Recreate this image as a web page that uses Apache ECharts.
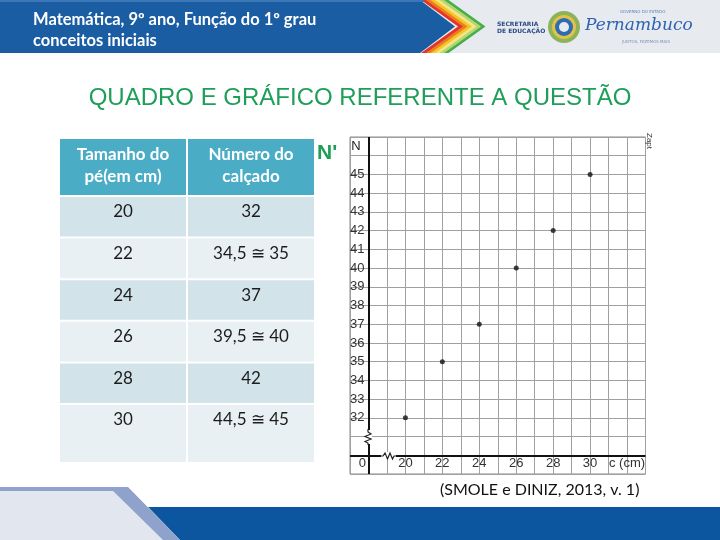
<!DOCTYPE html>
<html><head><meta charset="utf-8">
<script src="https://cdn.jsdelivr.net/npm/echarts@6/dist/echarts.min.js"></script>
<style>html,body{margin:0;padding:0;background:#fff}#c{width:720px;height:540px}</style>
</head><body><div id="c"></div>
<script>
// ---- data ----
const footSizes = [20, 22, 24, 26, 28, 30];
const shoeLabels = ['32', '34,5 ≅ 35', '37', '39,5 ≅ 40', '42', '44,5 ≅ 45'];
const shoeNumbers = [32, 35, 37, 40, 42, 45];
const tableHeaders = ['Tamanho do\npé(em cm)', 'Número do\ncalçado'];
const xTickLabels = [20, 22, 24, 26, 28, 30];
const yTickLabels = [32, 33, 34, 35, 36, 37, 38, 39, 40, 41, 42, 43, 44, 45];
const headerLine1 = 'Matemática, 9º ano, Função do 1º grau';
const headerLine2 = 'conceitos iniciais';
const titleText = 'QUADRO E GRÁFICO REFERENTE A QUESTÃO';
const citation = '(SMOLE e DINIZ, 2013, v. 1)';

const chart = echarts.init(document.getElementById('c'), null, {renderer: 'canvas'});
const g = [];

// header band
g.push({type: 'rect', shape: {x: 0, y: 0, width: 720, height: 53}, style: {fill: '#E7EAEF'}, z: 0});
const chevColors = ['#E3342A', '#EE7D1E', '#F6C51E', '#F3E58A', '#B5D66E', '#47AE4A'];
for (let i = chevColors.length - 1; i >= 0; i--) {
  const d = 3 + i * 4.5;
  g.push({type: 'polygon', shape: {points: [[418 + d, 0], [455 + d, 26.5], [418 + d, 53], [418 + d + 5, 53], [455 + d + 5, 26.5], [418 + d + 5, 0]]}, style: {fill: chevColors[i]}, z: 1});
}
g.push({type: 'polygon', shape: {points: [[0, 0], [420, 0], [455, 26.5], [420, 53], [0, 53]]}, style: {fill: '#1A5DA2'}, z: 2});
g.push({type: 'rect', shape: {x: 0, y: 0, width: 424, height: 2}, style: {fill: '#3C78B8'}, z: 3});
g.push({type: 'text', left: 33, top: 11, style: {text: headerLine1, fill: '#fff', font: 'bold 16.5px Lato'}, z: 4});
g.push({type: 'text', left: 33, top: 32, style: {text: headerLine2, fill: '#fff', font: 'bold 16.5px Lato'}, z: 4});
// logo approximations
g.push({type: 'text', left: 497, top: 21, style: {text: 'SECRETARIA\nDE EDUCAÇÃO', fill: '#2B4C86', font: 'bold 6px "DejaVu Sans"', lineHeight: 7}, z: 4});
g.push({type: 'circle', shape: {cx: 564, cy: 27, r: 16}, style: {fill: '#8DB35A'}, z: 4});
g.push({type: 'circle', shape: {cx: 564, cy: 27, r: 12}, style: {fill: '#E2C24A'}, z: 4});
g.push({type: 'circle', shape: {cx: 564, cy: 27, r: 9}, style: {fill: '#2D6CB3'}, z: 4});
g.push({type: 'circle', shape: {cx: 564, cy: 27, r: 5}, style: {fill: '#E7EAEF'}, z: 4});
g.push({type: 'text', left: 620, top: 10, style: {text: 'GOVERNO DO ESTADO', fill: '#5A7FB5', font: '4px "DejaVu Sans"'}, z: 4});
g.push({type: 'text', left: 585, top: 17, style: {text: 'Pernambuco', fill: '#2D63B0', font: 'italic 17px "DejaVu Serif"'}, z: 4});
g.push({type: 'text', left: 622, top: 40, style: {text: 'JUNTOS, FAZEMOS MAIS', fill: '#7C93BA', font: '4px "DejaVu Sans"'}, z: 4});

// title
g.push({type: 'text', left: 'center', top: 86, style: {text: titleText, fill: '#1E9E58', font: '24px "Liberation Sans"'}, z: 4});
g.push({type: 'text', left: 317, top: 143, style: {text: "N'", fill: '#1E9E58', font: 'bold 21px "Liberation Sans"'}, z: 1});

// table
const colX = [60, 188], colW = 126;
g.push({type: 'rect', shape: {x: colX[0], y: 139, width: colW, height: 56}, style: {fill: '#4BACC6'}, z: 2});
g.push({type: 'rect', shape: {x: colX[1], y: 139, width: colW, height: 56}, style: {fill: '#4BACC6'}, z: 2});
tableHeaders.forEach((h, c) => {
  g.push({type: 'text', style: {x: colX[c] + colW / 2, y: 166, text: h, fill: '#fff', font: 'bold 17px Lato', align: 'center', verticalAlign: 'middle', lineHeight: 22}, z: 3});
});
footSizes.forEach((f, i) => {
  const top = 197 + i * 41.6;
  const h = i === footSizes.length - 1 ? 57 : 39.6;
  const fill = i % 2 === 0 ? '#D2E3EA' : '#E9F0F3';
  [String(f), shoeLabels[i]].forEach((t, c) => {
    g.push({type: 'rect', shape: {x: colX[c], y: top, width: colW, height: h}, style: {fill: fill}, z: 2});
    g.push({type: 'text', style: {x: colX[c] + colW / 2, y: top + 15, text: t, fill: '#1c1c1c', font: '17px Lato', align: 'center', verticalAlign: 'middle'}, z: 3});
  });
});

// graph extras
g.push({type: 'text', style: {x: 356, y: 146, text: 'N', fill: '#222', font: '13px "Liberation Sans"', align: 'center', verticalAlign: 'middle'}, z: 10});
g.push({type: 'text', rotation: -Math.PI / 2, x: 653, y: 133, style: {text: 'Zapt', fill: '#333', font: '8px "Liberation Sans"'}, z: 10});
// axis breaks
g.push({type: 'rect', shape: {x: 365, y: 430, width: 7, height: 14}, style: {fill: '#fff'}, z: 10});
g.push({type: 'polyline', shape: {points: [[368, 429], [368, 432], [371, 434], [365, 436.5], [371, 439], [365, 441.5], [368, 443], [368, 445]]}, style: {stroke: '#222', lineWidth: 1.2, fill: null}, z: 11});
g.push({type: 'rect', shape: {x: 381, y: 452, width: 15, height: 8}, style: {fill: '#fff'}, z: 10});
g.push({type: 'polyline', shape: {points: [[380, 456], [383, 456], [385, 453], [387.5, 459], [390, 453], [392.5, 459], [394, 456], [397, 456]]}, style: {stroke: '#222', lineWidth: 1.2, fill: null}, z: 11});

// citation
g.push({type: 'text', left: 440, top: 482, style: {text: citation, fill: '#111', font: '16px Lato'}, z: 4});

// bottom band
g.push({type: 'polygon', shape: {points: [[0, 491], [113, 491], [163, 540], [0, 540]]}, style: {fill: '#E2E7EF'}, z: 1});
g.push({type: 'polygon', shape: {points: [[0, 487], [128, 487], [180, 540], [163, 540], [113, 491], [0, 491]]}, style: {fill: '#8FA2CC'}, z: 2});
g.push({type: 'polygon', shape: {points: [[148, 507], [720, 507], [720, 540], [180, 540]]}, style: {fill: '#0C559F'}, z: 1});

const option = {
  animation: false,
  backgroundColor: '#fff',
  grid: {left: 350, right: 74.5, top: 137, bottom: 66, show: true, borderColor: '#8a8a8a', borderWidth: 1, backgroundColor: '#fff'},
  xAxis: {
    type: 'value', min: 17, max: 33, interval: 1,
    axisLine: {show: false}, axisTick: {show: false},
    splitLine: {show: true, lineStyle: {color: '#a0a0a0', width: 1}},
    axisLabel: {
      inside: true, margin: 4, showMinLabel: true, showMaxLabel: true,
      color: '#333', fontSize: 13, fontFamily: 'Liberation Sans',
      formatter: v => v === 18 ? '{z|0}' : (xTickLabels.includes(v) ? String(v) : (v === 32 ? 'c (cm)' : '')),
      rich: {z: {padding: [0, 12, 0, 0], fontSize: 13, color: '#333'}}
    }
  },
  yAxis: {
    type: 'value', min: 29, max: 47, interval: 1,
    axisLine: {show: false}, axisTick: {show: false},
    splitLine: {show: true, lineStyle: {color: '#a0a0a0', width: 1}},
    axisLabel: {
      inside: true, margin: 0, color: '#333', fontSize: 13, fontFamily: 'Liberation Sans',
      formatter: v => yTickLabels.includes(v) ? String(v) : ''
    }
  },
  series: [{
    type: 'scatter', symbol: 'circle', symbolSize: 5,
    itemStyle: {color: '#111'},
    data: footSizes.map((x, i) => [x, shoeNumbers[i]]),
    markLine: {
      silent: true, symbol: 'none', label: {show: false},
      lineStyle: {color: '#111', width: 2, type: 'solid'},
      data: [{xAxis: 18}, {yAxis: 30}]
    }
  }],
  graphic: {elements: g}
};
chart.setOption(option);
</script></body></html>
